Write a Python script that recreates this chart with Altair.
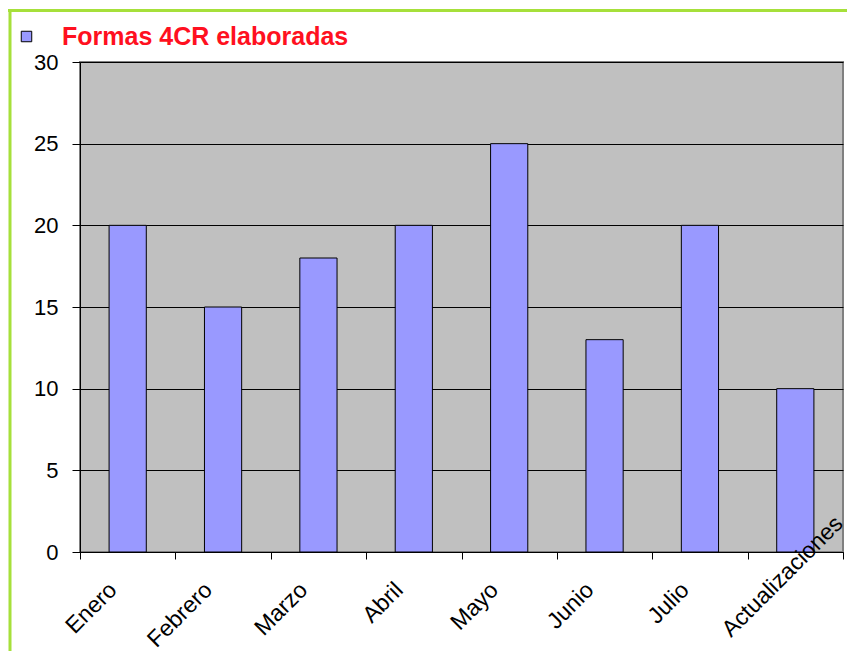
import altair as alt
import pandas as pd

categories = ["Enero", "Febrero", "Marzo", "Abril", "Mayo", "Junio", "Julio", "Actualizaciones"]
values = [20, 15, 18, 20, 25, 13, 20, 10]
series_name = "Formas 4CR elaboradas"
y_ticks = [0, 5, 10, 15, 20, 25, 30]

df = pd.DataFrame({"mes": categories, "valor": values, "serie": [series_name] * len(categories)})

FONT = "Liberation Sans"
GREEN = "#A6E03A"

x_enc = alt.X(
    "mes:N",
    sort=categories,
    scale=alt.Scale(paddingInner=0, paddingOuter=0),
    axis=alt.Axis(
        title=None, labelAngle=-45, labelAlign="right", labelBaseline="middle",
        labelOffset=-15, labelPadding=27, labelFontSize=23, labelFont=FONT,
        labelColor="black", tickBand="extent", tickSize=7, tickColor="black",
        domainColor="black", grid=False, labelOverlap=False,
        labelExpr="datum.value == 'Actualizaciones' ? '' : datum.label",
    ),
)

bars = alt.Chart(df).mark_bar(
    width=alt.RelativeBandSize(0.39), stroke="black", strokeWidth=1
).encode(
    x=x_enc,
    y=alt.Y(
        "valor:Q",
        scale=alt.Scale(domain=[0, 30], nice=False),
        axis=alt.Axis(
            values=y_ticks, title=None, labelFontSize=22, labelFont=FONT,
            labelColor="black", labelPadding=14, tickSize=8, tickColor="black",
            domainColor="black", grid=True, gridColor="black", gridOpacity=1, gridWidth=1,
        ),
    ),
    color=alt.Color(
        "serie:N",
        scale=alt.Scale(range=["#9999FF"]),
        legend=alt.Legend(
            title=None, orient="none", legendX=-66, legendY=-38, symbolType="square",
            symbolSize=110, symbolStrokeColor="black", symbolStrokeWidth=1,
            labelFontSize=25, labelFontWeight="bold", labelColor="#FF1020", labelFont=FONT,
            labelOffset=23, labelLimit=0, padding=0,
        ),
    ),
)

last_label = alt.Chart(pd.DataFrame({"mes": [categories[-1]]})).mark_text(
    angle=315, align="right", baseline="middle", dx=62, fontSize=23, font=FONT, color="black"
).encode(x=x_enc, y=alt.value(502), text="mes:N")

border_df = pd.DataFrame({"a": [0]})
left_border = alt.Chart(border_df).mark_rule(color=GREEN, strokeWidth=3).encode(
    x=alt.value(-70), y=alt.value(-53), y2=alt.value(600)
)
top_border = alt.Chart(border_df).mark_rule(color=GREEN, strokeWidth=3).encode(
    x=alt.value(-72), x2=alt.value(790), y=alt.value(-51.5)
)

chart = alt.layer(bars, last_label, left_border, top_border).properties(
    width=763, height=490,
    autosize=alt.AutoSizeParams(type="none"),
    padding={"left": 72, "top": 54, "right": 4, "bottom": 99},
    background="white",
).configure_view(fill="#C0C0C0", stroke="#808080", strokeWidth=2)

chart.save("out.html", embed_options={"renderer": "svg", "actions": False})
